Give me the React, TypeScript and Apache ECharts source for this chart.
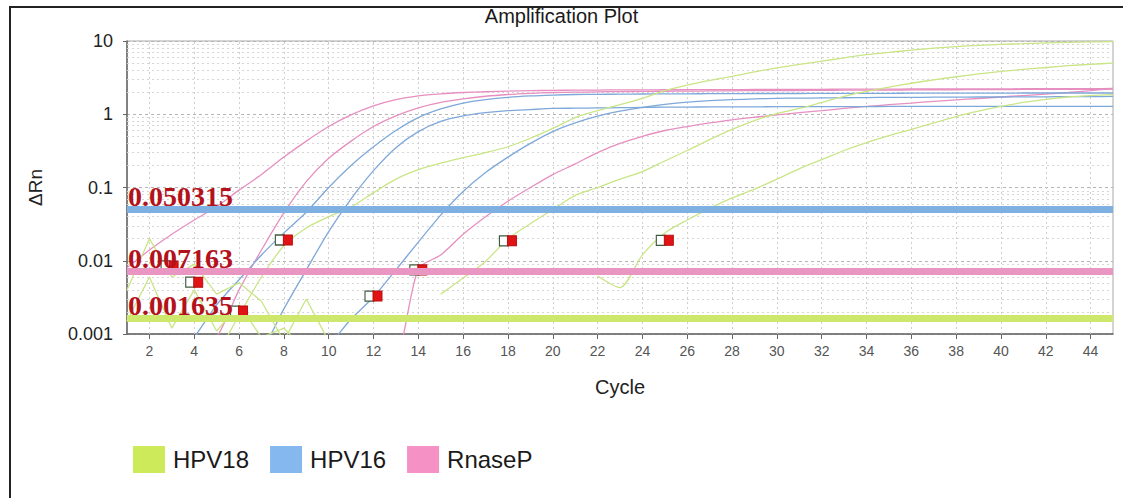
import React, { useEffect, useRef } from "react";
import * as echarts from "echarts";

// ---------- data ----------
const cycles = [1,2,3,4,5,6,7,8,9,10,11,12,13,14,15,16,17,18,19,20,21,22,23,24,25,26,27,28,29,30,31,32,33,34,35,36,37,38,39,40,41,42,43,44,45];
const xTickValues = [2,4,6,8,10,12,14,16,18,20,22,24,26,28,30,32,34,36,38,40,42,44];
const yDecades = [0.001, 0.01, 0.1, 1];
const minorMultipliers = [2,3,4,5,6,7,8,9];

const thresholdValues = [0.050315, 0.007163, 0.001635];
const thresholdLabels = ["0.050315", "0.007163", "0.001635"];
const thresholdColors = ["#7eb0e2", "#ea96c2", "#cde86c"];

const legendNames = ["HPV18", "HPV16", "RnaseP"];
const legendColors = ["#cdea5a", "#86b8f0", "#f591c4"];

// RnaseP curves (cycle 1..45)
const rnaseP1 = [0.008,0.014,0.023,0.036,0.055,0.092,0.15,0.26,0.43,0.68,0.98,1.3,1.58,1.78,1.9,1.98,2.03,2.07,2.1,2.12,2.13,2.14,2.15,2.15,2.16,2.16,2.17,2.17,2.18,2.18,2.19,2.19,2.2,2.2,2.2,2.21,2.21,2.22,2.22,2.22,2.23,2.23,2.24,2.24,2.25];
const rnaseP2 = [0.0005,0.0005,0.0005,0.0005,0.0009,0.004,0.014,0.045,0.12,0.25,0.43,0.68,0.95,1.22,1.45,1.62,1.76,1.86,1.93,1.98,2.0,2.02,2.04,2.05,2.06,2.07,2.08,2.09,2.1,2.1,2.11,2.12,2.13,2.14,2.14,2.15,2.16,2.16,2.17,2.17,2.18,2.18,2.19,2.19,2.2];
const rnaseP3 = [null,null,null,null,null,null,null,null,null,null,null,0.0003,0.0004,0.0078,0.012,0.023,0.04,0.065,0.1,0.15,0.21,0.3,0.4,0.5,0.6,0.68,0.76,0.84,0.91,0.98,1.05,1.12,1.2,1.28,1.35,1.42,1.5,1.57,1.64,1.72,1.8,1.88,1.98,2.1,2.25];

// HPV16 curves
const hpv16a = [0.0004,0.0004,0.0004,0.0009,0.0025,0.0055,0.012,0.024,0.046,0.1,0.2,0.36,0.6,0.9,1.18,1.42,1.58,1.7,1.78,1.83,1.86,1.87,1.88,1.89,1.9,1.9,1.91,1.91,1.92,1.92,1.92,1.93,1.93,1.93,1.93,1.94,1.94,1.94,1.94,1.94,1.95,1.95,1.95,1.95,1.95];
const hpv16b = [null,null,null,null,null,0.0004,0.0006,0.0022,0.0075,0.025,0.07,0.17,0.35,0.58,0.8,0.95,1.05,1.12,1.16,1.2,1.21,1.22,1.23,1.24,1.25,1.25,1.26,1.26,1.26,1.27,1.27,1.27,1.27,1.27,1.28,1.28,1.28,1.28,1.28,1.28,1.28,1.28,1.28,1.28,1.28];
const hpv16c = [null,null,null,null,null,null,null,null,0.0004,0.0007,0.0016,0.0032,0.0075,0.018,0.042,0.088,0.16,0.26,0.4,0.58,0.76,0.94,1.1,1.24,1.36,1.46,1.53,1.58,1.62,1.65,1.66,1.67,1.68,1.69,1.7,1.7,1.71,1.71,1.72,1.72,1.73,1.73,1.74,1.74,1.75];

// HPV18 curves
const hpv18a = [null,null,null,null,0.0005,0.0018,0.006,0.016,0.028,0.04,0.054,0.085,0.13,0.175,0.215,0.255,0.3,0.36,0.47,0.64,0.9,1.12,1.35,1.65,2.1,2.5,2.9,3.3,3.8,4.3,4.8,5.3,5.9,6.5,7.0,7.5,8.0,8.4,8.7,9.0,9.2,9.4,9.6,9.7,9.8];
const hpv18b = [null,null,null,null,null,null,null,null,null,null,null,null,null,null,0.0035,0.0058,0.0098,0.02,0.032,0.05,0.078,0.1,0.13,0.165,0.23,0.32,0.45,0.62,0.82,1.02,1.2,1.45,1.75,2.05,2.35,2.65,2.95,3.25,3.55,3.85,4.1,4.35,4.6,4.8,5.0];
const hpv18c = [null,null,null,null,null,null,null,null,null,null,null,null,null,null,null,null,null,null,null,null,null,0.0062,0.0043,0.012,0.024,0.036,0.052,0.072,0.095,0.13,0.18,0.24,0.32,0.41,0.51,0.62,0.76,0.93,1.1,1.28,1.45,1.6,1.72,1.8,1.85];
const hpv18noise1 = [0.004,0.02,0.006,0.009,0.0035,0.005,0.0028,0.0008,0.003,0.0008,0.0005];
const hpv18noise2 = [0.0015,0.006,0.0012,0.004,0.0011,0.0025,0.0009,0.0012,0.0006];

// Ct markers
const markerCycles = [2.9, 4.0, 6.0, 8.0, 12.0, 14.0, 18.0, 25.0];
const markerValues = [0.0085, 0.0051, 0.00206, 0.0192, 0.0033, 0.0075, 0.0187, 0.019];

// ---------- helpers ----------
const toPoints = (vals: (number | null)[]) =>
  vals.map((v, i) => [cycles[i], v]).filter((p) => p[1] !== null);

const curveColors: Record<string, string> = {
  HPV18: "#c9e585",
  HPV16: "#7ea8da",
  RnaseP: "#e68fc0",
};

function curve(target: string, vals: (number | null)[], smooth = true): any {
  return {
    type: "line",
    name: target + "-curve",
    data: toPoints(vals),
    symbol: "none",
    smooth: smooth ? 0.25 : false,
    clip: true,
    silent: true,
    z: 3,
    lineStyle: { color: curveColors[target], width: 1.3 },
  };
}

export default function App() {
  const ref = useRef<HTMLDivElement>(null);

  useEffect(() => {
    if (!ref.current) return;
    const chart = echarts.init(ref.current, undefined, { renderer: "svg" });

    const minorValues: number[] = [];
    yDecades.forEach((d) => minorMultipliers.forEach((m) => minorValues.push(d * m)));

    const series: any[] = [
      // minor grid (horizontal) and vertical grid
      {
        type: "line",
        name: "grid",
        data: [],
        silent: true,
        markLine: {
          silent: true,
          precision: 8,
          symbol: ["none", "none"],
          z: 1,
          label: { show: false },
          lineStyle: { color: "#d6d6d6", type: [2, 3], width: 1 },
          data: [
            ...minorValues.map((v) => ({ yAxis: v })),
            ...xTickValues.map((v) => ({ xAxis: v, lineStyle: { color: "#cfcfcf", type: [2, 3], width: 1 } })),
          ],
        },
      },
      curve("RnaseP", rnaseP1),
      curve("RnaseP", rnaseP2),
      curve("RnaseP", rnaseP3),
      curve("HPV16", hpv16a),
      curve("HPV16", hpv16b),
      curve("HPV16", hpv16c),
      curve("HPV18", hpv18a),
      curve("HPV18", hpv18b),
      curve("HPV18", hpv18c),
      curve("HPV18", hpv18noise1, false),
      curve("HPV18", hpv18noise2, false),
      {
        type: "scatter",
        name: "ct-box",
        silent: true,
        z: 4,
        symbol: "rect",
        symbolSize: [9, 10],
        symbolOffset: [-4, 0],
        itemStyle: { color: "#ffffff", borderColor: "#3f5a3f", borderWidth: 1.2, opacity: 1 },
        data: markerCycles.map((c, i) => [c, markerValues[i]]),
      },
      {
        type: "scatter",
        name: "ct-fill",
        silent: true,
        z: 4,
        symbol: "rect",
        symbolSize: [9, 10],
        symbolOffset: [4, 0],
        itemStyle: { color: "#e01414", borderColor: "#b80c0c", borderWidth: 1, opacity: 1 },
        data: markerCycles.map((c, i) => [c, markerValues[i]]),
      },
      // thresholds
      {
        type: "line",
        name: "thresholds",
        data: [],
        silent: true,
        markLine: {
          silent: true,
          precision: 8,
          symbol: ["none", "none"],
          z: 6,
          data: thresholdValues.map((v, i) => ({
            yAxis: v,
            lineStyle: { color: thresholdColors[i], width: 7, type: "solid", opacity: 1 },
            label: {
              show: true,
              position: "insideStartTop",
              distance: [1, -1],
              formatter: thresholdLabels[i],
              color: "#b3121b",
              fontFamily: "'Liberation Serif', 'DejaVu Serif', serif",
              fontWeight: "bold",
              fontSize: 28,
            },
          })),
        },
      },
      // legend proxies
      ...legendNames.map((n, i) => ({
        type: "bar",
        name: n,
        data: [],
        itemStyle: { color: legendColors[i] },
      })),
    ];

    chart.setOption({
      animation: false,
      backgroundColor: "#ffffff",
      title: {
        text: "Amplification Plot",
        left: "center",
        top: 6,
        padding: 0,
        textStyle: {
          fontFamily: "'Liberation Sans', Arial, sans-serif",
          fontSize: 20,
          fontWeight: "normal",
          color: "#1a1a1a",
        },
      },
      legend: {
        data: legendNames,
        left: 133,
        top: 446,
        padding: 0,
        icon: "rect",
        itemWidth: 32,
        itemHeight: 27,
        itemGap: 21,
        selectedMode: false,
        textStyle: {
          fontFamily: "'Liberation Sans Narrow', 'Liberation Sans', Arial, sans-serif",
          fontSize: 24,
          color: "#1a1a1a",
          padding: [0, 0, 0, 3],
        },
      },
      graphic: [
        {
          type: "rect",
          silent: true,
          shape: { x: 10, y: 7, width: 1130, height: 510 },
          style: { fill: "none", stroke: "#222222", lineWidth: 2 },
          z: 100,
        },
      ],
      grid: {
        left: 127,
        right: 10,
        top: 41,
        bottom: 164,
        show: true,
        backgroundColor: "#ffffff",
        borderColor: "#a8a8a8",
        borderWidth: 1,
        containLabel: false,
      },
      xAxis: {
        type: "value",
        min: 1,
        max: 45,
        name: "Cycle",
        nameLocation: "middle",
        nameGap: 43,
        nameTextStyle: {
          fontFamily: "'Liberation Sans', Arial, sans-serif",
          fontSize: 20,
          color: "#222",
        },
        axisLine: { show: true, lineStyle: { color: "#666", width: 1.5 } },
        axisTick: { show: true, length: 5, customValues: xTickValues, lineStyle: { color: "#666" } },
        axisLabel: {
          customValues: xTickValues,
          margin: 10,
          fontFamily: "'Liberation Sans', Arial, sans-serif",
          fontSize: 14,
          color: "#555",
        },
        splitLine: { show: false },
      },
      yAxis: {
        type: "log",
        logBase: 10,
        min: 0.001,
        max: 10,
        name: "ΔRn",
        nameLocation: "middle",
        nameGap: 82,
        nameRotate: 90,
        nameTextStyle: {
          fontFamily: "'Liberation Sans', Arial, sans-serif",
          fontSize: 19,
          color: "#222",
        },
        axisLine: { show: true, lineStyle: { color: "#666", width: 1.5 } },
        axisTick: { show: true, length: 4, lineStyle: { color: "#666" } },
        axisLabel: {
          margin: 14,
          fontFamily: "'Liberation Sans', Arial, sans-serif",
          fontSize: 18,
          color: "#222",
          formatter: (v: number) => String(parseFloat(v.toPrecision(6))),
        },
        splitLine: { show: true, lineStyle: { color: "#b5b5b5", type: [3, 3], width: 1 } },
      },
      series,
    });

    return () => chart.dispose();
  }, []);

  return (
    <div
      ref={ref}
      style={{ position: "absolute", left: 0, top: 0, width: 1123, height: 498 }}
    />
  );
}
